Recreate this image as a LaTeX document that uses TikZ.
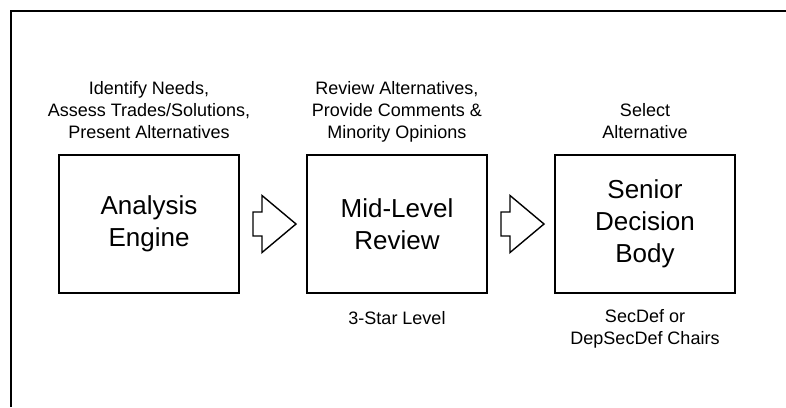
\documentclass[tikz,border=0pt]{standalone}
\usepackage{fontspec}
\setmainfont{Liberation Sans}
\usetikzlibrary{positioning}

\tikzset{
  stage/.style={draw, line width=2pt, minimum width=180pt, minimum height=138pt,
                inner sep=0pt, align=center, font=\fontsize{26}{32}\selectfont},
  note/.style={inner sep=0pt, align=center, font=\fontsize{18}{22}\selectfont,
               execute at begin node=\strut, execute at end node=\strut},
  blockarrow/.style={draw, line width=1.4pt, line join=miter}
}

\begin{document}
\begin{tikzpicture}[x=1pt, y=-1pt]
  \useasboundingbox (0,0) rectangle (786,407);
  % frame
  \draw[line width=2pt] (11,407) -- (11,11) -- (786,11);

  \node[stage] (analysis) at (149,224) {Analysis\\Engine};
  \node[stage, right=66pt of analysis] (review) {Mid-Level\\Review};
  \node[stage, right=66pt of review] (senior) {Senior\\Decision\\Body};

  \node[note, above=9pt of analysis] (needs)
    {Identify Needs,\\Assess Trades/Solutions,\\Present Alternatives};
  \node[note, above=9pt of review] (comments)
    {Review Alternatives,\\Provide Comments \&\\Minority Opinions};
  \node[note, above=9pt of senior] (select) {Select\\Alternative};

  \node[note, below=15pt of review] (star) {3-Star Level};
  \node[note, below=15pt of senior] (chairs) {SecDef or\\DepSecDef Chairs};

  \foreach \a in {analysis, review}{
    \draw[blockarrow] (\a.east) ++(13,-12) --++ (9,0) --++ (0,-16.5)
                      --++ (34,28.5) --++ (-34,28.5) --++ (0,-16.5)
                      --++ (-9,0) -- cycle;
  }
\end{tikzpicture}
\end{document}
